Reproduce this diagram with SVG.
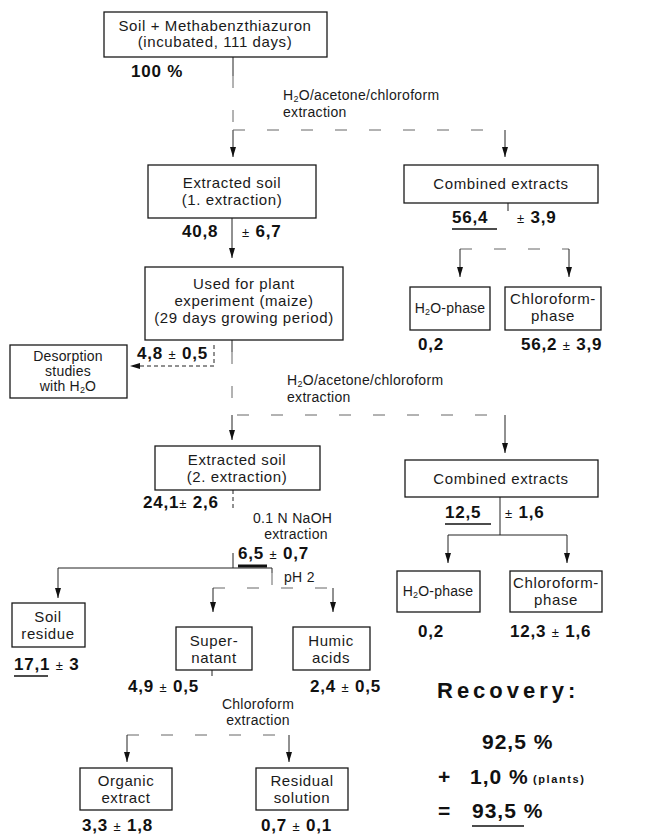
<svg xmlns="http://www.w3.org/2000/svg" width="645" height="834" viewBox="0 0 645 834">
<style>
.box{fill:#fff;stroke:#1a1a1a;stroke-width:1.3}
.t{font-family:"Liberation Sans",Arial,sans-serif;font-size:15px;fill:#1a1a1a;letter-spacing:0.6px}
.ts{font-size:14px;letter-spacing:0.2px}
.c{text-anchor:middle}
.lab{font-family:"Liberation Sans",Arial,sans-serif;font-size:14px;fill:#1a1a1a;letter-spacing:0.3px}
.n{font-family:"Liberation Sans",Arial,sans-serif;font-size:17px;font-weight:bold;fill:#111;letter-spacing:0.8px}
.pm{font-size:13px;font-weight:normal}
.sub{font-size:9px}
.ln{fill:none;stroke:#222;stroke-width:1}
.fl{fill:none;stroke:#666;stroke-width:1;stroke-dasharray:12 22}
.ds{fill:none;stroke:#222;stroke-width:1;stroke-dasharray:4 3}
.ul{stroke:#111;stroke-width:1.6}
.rec{font-family:"Liberation Sans",Arial,sans-serif;font-weight:bold;fill:#111}
</style>
<defs>
<marker id="ah" viewBox="0 0 10 6" refX="10" refY="3" markerWidth="10" markerHeight="6" markerUnits="userSpaceOnUse" orient="auto">
<path d="M0,0 L10,3 L0,6 z" fill="#111"/>
</marker>
</defs>

<g id="connectors">
<path class="ln" d="M233,57 V76"/>
<path class="fl" d="M233,76 V130"/>
<path class="ln" d="M233,130 V157" marker-end="url(#ah)"/>
<path class="fl" d="M233,130 H505"/>
<path class="ln" d="M505,130 V157" marker-end="url(#ah)"/>
<path class="ln" d="M232,218 V258" marker-end="url(#ah)"/>
<path class="ln" d="M508,203 V211"/>
<path class="fl" d="M460,249 H569"/>
<path class="ln" d="M460,249 V277" marker-end="url(#ah)"/>
<path class="ln" d="M569,249 V277" marker-end="url(#ah)"/>
<path class="ln" d="M232,340 V352"/>
<path class="fl" d="M232,352 V415 H505"/>
<path class="ds" d="M214,345 V366 H130" marker-end="url(#ah)"/>
<path class="ln" d="M232,415 V440" marker-end="url(#ah)"/>
<path class="ln" d="M505,415 V453" marker-end="url(#ah)"/>
<path class="ln" d="M500,497 V535"/>
<path class="ln" d="M448,535 H567"/>
<path class="ln" d="M448,535 V563" marker-end="url(#ah)"/>
<path class="ln" d="M567,535 V563" marker-end="url(#ah)"/>
<path class="ds" d="M233,490 V510"/>
<path class="ln" d="M233,553 V568"/>
<path class="ln" d="M58,568 H272 V573"/>
<path class="ln" d="M58,568 V598" marker-end="url(#ah)"/>
<path class="fl" d="M272,573 V588"/>
<path class="fl" d="M213,588 H333"/>
<path class="ln" d="M213,588 V612" marker-end="url(#ah)"/>
<path class="ln" d="M333,588 V612" marker-end="url(#ah)"/>
<path class="ln" d="M212,670 V676"/>
<path class="fl" d="M127,735 H289"/>
<path class="ln" d="M127,735 V762" marker-end="url(#ah)"/>
<path class="ln" d="M289,735 V762" marker-end="url(#ah)"/>
</g>

<g id="n-soil">
<rect class="box" x="104" y="12" width="223" height="45"/>
<text class="t c" x="215" y="31">Soil + Methabenzthiazuron</text>
<text class="t c" x="215" y="47">(incubated, 111 days)</text>
</g>
<text class="n" x="131" y="77">100 %</text>
<text class="lab" x="283" y="100">H<tspan class="sub" dy="2">2</tspan><tspan dy="-2">O/acetone/chloroform</tspan></text>
<text class="lab" x="283" y="117">extraction</text>

<g id="n-ext1">
<rect class="box" x="148" y="165" width="168" height="53"/>
<text class="t c" x="232" y="188">Extracted soil</text>
<text class="t c" x="232" y="205">(1. extraction)</text>
</g>
<text class="n" x="182" y="237">40,8</text>
<text class="n" x="242" y="237"><tspan class="pm">±</tspan> 6,7</text>

<g id="n-comb1">
<rect class="box" x="404" y="165" width="194" height="38"/>
<text class="t c" x="501" y="189">Combined extracts</text>
</g>
<text class="n" x="452" y="223">56,4</text>
<line class="ul" x1="452" y1="229" x2="497" y2="229"/>
<text class="n" x="517" y="223"><tspan class="pm">±</tspan> 3,9</text>

<g id="n-h2o1">
<rect class="box" x="410" y="287" width="80" height="43"/>
<text class="t ts c" x="450" y="313">H<tspan class="sub" dy="2">2</tspan><tspan dy="-2">O-phase</tspan></text>
</g>
<g id="n-chl1">
<rect class="box" x="505" y="287" width="96" height="43"/>
<text class="t c" x="553" y="304">Chloroform-</text>
<text class="t c" x="553" y="321">phase</text>
</g>
<text class="n" x="418" y="350">0,2</text>
<text class="n" x="521" y="350">56,2 <tspan class="pm">±</tspan> 3,9</text>

<g id="n-used">
<rect class="box" x="145" y="267" width="198" height="73"/>
<text class="t c" x="244" y="289">Used for plant</text>
<text class="t c" x="244" y="306">experiment (maize)</text>
<text class="t c" x="244" y="323">(29 days growing period)</text>
</g>
<text class="n" x="137" y="359">4,8 <tspan class="pm">±</tspan> 0,5</text>

<g id="n-desorp">
<rect class="box" x="10" y="345" width="117" height="53"/>
<text class="t ts c" x="68" y="361">Desorption</text>
<text class="t ts c" x="68" y="376">studies</text>
<text class="t ts c" x="68" y="391">with H<tspan class="sub" dy="2">2</tspan><tspan dy="-2">O</tspan></text>
</g>
<text class="lab" x="287" y="385">H<tspan class="sub" dy="2">2</tspan><tspan dy="-2">O/acetone/chloroform</tspan></text>
<text class="lab" x="287" y="402">extraction</text>

<g id="n-ext2">
<rect class="box" x="155" y="446" width="165" height="44"/>
<text class="t c" x="237" y="465">Extracted soil</text>
<text class="t c" x="237" y="482">(2. extraction)</text>
</g>
<text class="n" x="143" y="508">24,1<tspan class="pm">±</tspan> 2,6</text>
<text class="lab" x="253" y="523">0.1 N NaOH</text>
<text class="lab c" x="296" y="539">extraction</text>
<text class="n" x="238" y="559">6,5 <tspan class="pm">±</tspan> 0,7</text>
<line stroke="#111" stroke-width="3" x1="238" y1="566" x2="267" y2="566"/>
<text class="lab" x="284" y="582">pH 2</text>

<g id="n-comb2">
<rect class="box" x="405" y="460" width="193" height="37"/>
<text class="t c" x="501" y="484">Combined extracts</text>
</g>
<text class="n" x="445" y="518">12,5</text>
<line class="ul" x1="445" y1="524" x2="491" y2="524"/>
<text class="n" x="505" y="518"><tspan class="pm">±</tspan> 1,6</text>

<g id="n-h2o2">
<rect class="box" x="397" y="571" width="83" height="41"/>
<text class="t ts c" x="438" y="596">H<tspan class="sub" dy="2">2</tspan><tspan dy="-2">O-phase</tspan></text>
</g>
<g id="n-chl2">
<rect class="box" x="510" y="571" width="92" height="41"/>
<text class="t c" x="556" y="588">Chloroform-</text>
<text class="t c" x="556" y="605">phase</text>
</g>
<text class="n" x="418" y="637">0,2</text>
<text class="n" x="510" y="637">12,3 <tspan class="pm">±</tspan> 1,6</text>

<g id="n-soilres">
<rect class="box" x="12" y="603" width="73" height="44"/>
<text class="t c" x="48" y="622">Soil</text>
<text class="t c" x="48" y="639">residue</text>
</g>
<text class="n" x="14" y="670">17,1 <tspan class="pm">±</tspan> 3</text>
<line class="ul" x1="14" y1="676" x2="48" y2="676"/>

<g id="n-super">
<rect class="box" x="176" y="627" width="76" height="43"/>
<text class="t c" x="214" y="646">Super-</text>
<text class="t c" x="214" y="663">natant</text>
</g>
<g id="n-humic">
<rect class="box" x="293" y="627" width="77" height="43"/>
<text class="t c" x="331" y="646">Humic</text>
<text class="t c" x="331" y="663">acids</text>
</g>
<text class="n" x="128" y="692">4,9 <tspan class="pm">±</tspan> 0,5</text>
<text class="n" x="310" y="692">2,4 <tspan class="pm">±</tspan> 0,5</text>
<text class="lab c" x="258" y="709">Chloroform</text>
<text class="lab c" x="258" y="725">extraction</text>

<g id="n-organic">
<rect class="box" x="80" y="768" width="92" height="42"/>
<text class="t c" x="126" y="786">Organic</text>
<text class="t c" x="126" y="803">extract</text>
</g>
<g id="n-residual">
<rect class="box" x="256" y="768" width="92" height="42"/>
<text class="t c" x="302" y="786">Residual</text>
<text class="t c" x="302" y="803">solution</text>
</g>
<text class="n" x="82" y="831">3,3 <tspan class="pm">±</tspan> 1,8</text>
<text class="n" x="261" y="831">0,7 <tspan class="pm">±</tspan> 0,1</text>

<g id="recovery">
<text class="rec" x="437" y="698" font-size="22" letter-spacing="4">Recovery:</text>
<text class="rec" x="482" y="749" font-size="21" letter-spacing="1">92,5 %</text>
<text class="rec" x="438" y="784" font-size="21">+</text>
<text class="rec" x="470" y="784" font-size="21" letter-spacing="1">1,0 %</text>
<text class="rec" x="533" y="783" font-size="11" letter-spacing="1.6">(plants)</text>
<text class="rec" x="438" y="818" font-size="21">=</text>
<text class="rec" x="472" y="818" font-size="21" letter-spacing="1">93,5 %</text>
<line class="ul" x1="472" y1="826" x2="524" y2="826"/>
</g>
</svg>
